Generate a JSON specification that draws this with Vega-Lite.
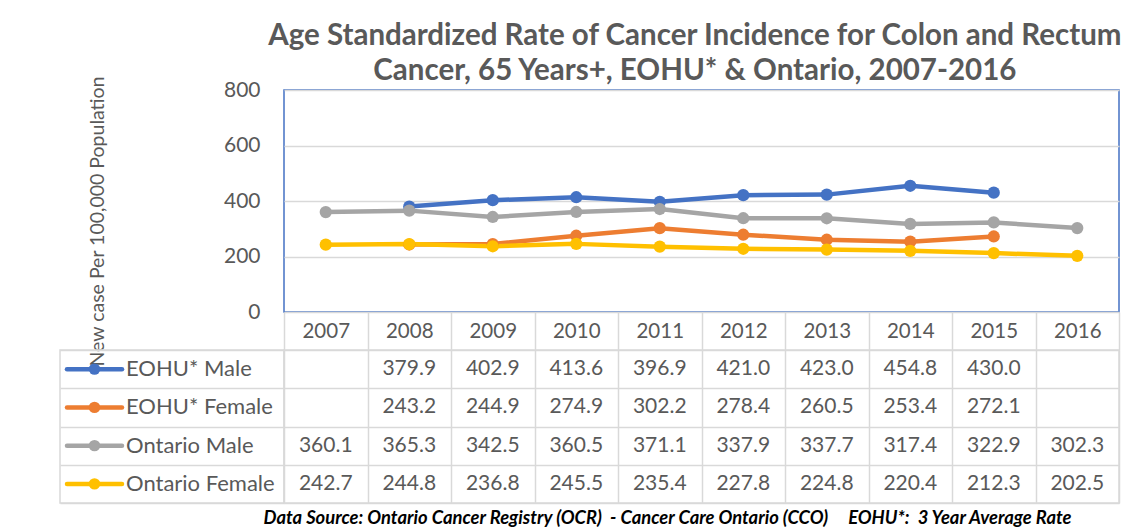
{
  "$schema": "https://vega.github.io/schema/vega-lite/v6.json",
  "padding": {"left": 59, "top": 20, "right": 8, "bottom": 0},
  "background": "white",
  "config": {"font": "Lato", "view": {"stroke": null}},
  "title": {
    "text": ["Age Standardized Rate of Cancer Incidence for Colon and Rectum", "Cancer, 65 Years+, EOHU* & Ontario, 2007-2016"],
    "fontSize": 29.5,
    "fontWeight": "bold",
    "color": "#595959",
    "lineHeight": 35,
    "anchor": "middle",
    "dx": 105,
    "offset": -11.5
  },
  "datasets": {
    "rates": [
      {"series": "EOHU* Male", "year": "2007", "value": null},
      {"series": "EOHU* Male", "year": "2008", "value": 379.9},
      {"series": "EOHU* Male", "year": "2009", "value": 402.9},
      {"series": "EOHU* Male", "year": "2010", "value": 413.6},
      {"series": "EOHU* Male", "year": "2011", "value": 396.9},
      {"series": "EOHU* Male", "year": "2012", "value": 421.0},
      {"series": "EOHU* Male", "year": "2013", "value": 423.0},
      {"series": "EOHU* Male", "year": "2014", "value": 454.8},
      {"series": "EOHU* Male", "year": "2015", "value": 430.0},
      {"series": "EOHU* Male", "year": "2016", "value": null},
      {"series": "EOHU* Female", "year": "2007", "value": null},
      {"series": "EOHU* Female", "year": "2008", "value": 243.2},
      {"series": "EOHU* Female", "year": "2009", "value": 244.9},
      {"series": "EOHU* Female", "year": "2010", "value": 274.9},
      {"series": "EOHU* Female", "year": "2011", "value": 302.2},
      {"series": "EOHU* Female", "year": "2012", "value": 278.4},
      {"series": "EOHU* Female", "year": "2013", "value": 260.5},
      {"series": "EOHU* Female", "year": "2014", "value": 253.4},
      {"series": "EOHU* Female", "year": "2015", "value": 272.1},
      {"series": "EOHU* Female", "year": "2016", "value": null},
      {"series": "Ontario Male", "year": "2007", "value": 360.1},
      {"series": "Ontario Male", "year": "2008", "value": 365.3},
      {"series": "Ontario Male", "year": "2009", "value": 342.5},
      {"series": "Ontario Male", "year": "2010", "value": 360.5},
      {"series": "Ontario Male", "year": "2011", "value": 371.1},
      {"series": "Ontario Male", "year": "2012", "value": 337.9},
      {"series": "Ontario Male", "year": "2013", "value": 337.7},
      {"series": "Ontario Male", "year": "2014", "value": 317.4},
      {"series": "Ontario Male", "year": "2015", "value": 322.9},
      {"series": "Ontario Male", "year": "2016", "value": 302.3},
      {"series": "Ontario Female", "year": "2007", "value": 242.7},
      {"series": "Ontario Female", "year": "2008", "value": 244.8},
      {"series": "Ontario Female", "year": "2009", "value": 236.8},
      {"series": "Ontario Female", "year": "2010", "value": 245.5},
      {"series": "Ontario Female", "year": "2011", "value": 235.4},
      {"series": "Ontario Female", "year": "2012", "value": 227.8},
      {"series": "Ontario Female", "year": "2013", "value": 224.8},
      {"series": "Ontario Female", "year": "2014", "value": 220.4},
      {"series": "Ontario Female", "year": "2015", "value": 212.3},
      {"series": "Ontario Female", "year": "2016", "value": 202.5}
    ],
    "series": [
      {"series": "EOHU* Male"},
      {"series": "EOHU* Female"},
      {"series": "Ontario Male"},
      {"series": "Ontario Female"}
    ]
  },
  "columns": 2,
  "spacing": {"row": 38, "column": 0},
  "bounds": "flush",
  "concat": [
    {
      "width": 224,
      "height": 222,
      "data": {"values": []},
      "mark": "point"
    },
    {
      "width": 835,
      "height": 222,
      "view": {"stroke": "#4472C4", "strokeWidth": 1.5},
      "data": {"name": "rates"},
      "transform": [{"filter": "datum.value != null"}],
      "encoding": {
        "x": {
          "field": "year", "type": "ordinal",
          "scale": {"type": "band", "paddingInner": 0, "paddingOuter": 0},
          "axis": {
            "title": null, "domain": false, "grid": false,
            "ticks": true, "tickBand": "extent", "tickSize": 38,
            "tickColor": "#D9D9D9", "tickWidth": 1.5,
            "labelAngle": 0, "labelFontSize": 20.5, "labelColor": "#595959",
            "labelBaseline": "middle", "labelPadding": -19
          }
        },
        "y": {
          "field": "value", "type": "quantitative",
          "scale": {"domain": [0, 800]},
          "axis": {
            "values": [0, 200, 400, 600, 800],
            "grid": true, "gridColor": "#D9D9D9", "gridWidth": 1.5,
            "ticks": false, "domain": false,
            "labelFontSize": 21, "labelColor": "#595959", "labelPadding": 24,
            "title": "New case Per 100,000 Population",
            "titleFontSize": 19.5, "titleFontWeight": "normal", "titleColor": "#595959",
            "titleAngle": -90, "titleAlign": "center", "titleBaseline": "alphabetic",
            "titleX": -181, "titleY": 131
          }
        },
        "color": {
          "field": "series", "type": "nominal",
          "scale": {
            "domain": ["EOHU* Male", "EOHU* Female", "Ontario Male", "Ontario Female"],
            "range": ["#4472C4", "#ED7D31", "#A5A5A5", "#FFC000"]
          },
          "legend": null
        }
      },
      "layer": [
        {"mark": {"type": "line", "strokeWidth": 4.5, "strokeCap": "round", "strokeJoin": "round"}},
        {"mark": {"type": "point", "filled": true, "size": 150, "opacity": 1}}
      ]
    },
    {
      "width": 224,
      "height": 153,
      "view": {"stroke": "#D9D9D9", "strokeWidth": 1.5},
      "data": {"name": "series"},
      "encoding": {
        "y": {
          "field": "series", "type": "nominal",
          "scale": {"type": "band", "paddingInner": 0, "paddingOuter": 0,
                    "domain": ["EOHU* Male", "EOHU* Female", "Ontario Male", "Ontario Female"]},
          "axis": {"title": null, "labels": false, "ticks": false, "domain": false,
                   "grid": true, "tickBand": "extent", "gridColor": "#D9D9D9", "gridWidth": 1.5}
        },
        "color": {
          "field": "series", "type": "nominal",
          "scale": {
            "domain": ["EOHU* Male", "EOHU* Female", "Ontario Male", "Ontario Female"],
            "range": ["#4472C4", "#ED7D31", "#A5A5A5", "#FFC000"]
          },
          "legend": null
        }
      },
      "layer": [
        {
          "mark": {"type": "rule", "strokeWidth": 4.5, "strokeCap": "round"},
          "encoding": {
            "x": {"datum": "start", "type": "ordinal",
                  "scale": {"type": "point", "domain": ["start", "mid", "end", "k4", "k5", "k6", "k7", "k8"], "padding": 0.5727, "align": 0.2222},
                  "axis": null},
            "x2": {"datum": "end"}
          }
        },
        {
          "mark": {"type": "point", "filled": true, "size": 130, "opacity": 1},
          "encoding": {"x": {"datum": "mid", "type": "ordinal"}}
        },
        {
          "mark": {"type": "text", "align": "left", "baseline": "middle", "dx": 4, "fontSize": 22, "color": "#595959"},
          "encoding": {
            "x": {"datum": "end", "type": "ordinal"},
            "text": {"field": "series"},
            "color": {"value": "#595959"}
          }
        }
      ]
    },
    {
      "width": 835,
      "height": 153,
      "view": {"stroke": "#D9D9D9", "strokeWidth": 1.5},
      "data": {"name": "rates"},
      "transform": [{"filter": "datum.value != null"}],
      "mark": {"type": "text", "fontSize": 21, "color": "#595959", "baseline": "middle"},
      "encoding": {
        "x": {
          "field": "year", "type": "ordinal",
          "scale": {"type": "band", "paddingInner": 0, "paddingOuter": 0},
          "axis": {
            "orient": "bottom", "labels": false, "ticks": false, "domain": false,
            "grid": true, "tickBand": "extent", "gridColor": "#D9D9D9", "gridWidth": 1.5,
            "title": "Data Source: Ontario Cancer Registry (OCR)\u00a0\u00a0- Cancer Care Ontario (CCO)\u00a0\u00a0\u00a0\u00a0\u00a0EOHU*:\u00a0\u00a03 Year Average Rate",
            "titleFontSize": 18.4, "titleFontWeight": "bold", "titleFontStyle": "italic", "titleColor": "#000000",
            "titleAnchor": "start", "titleAlign": "left", "titleBaseline": "alphabetic",
            "titleX": -21, "titleY": 20
          }
        },
        "y": {
          "field": "series", "type": "nominal",
          "scale": {"type": "band", "paddingInner": 0, "paddingOuter": 0,
                    "domain": ["EOHU* Male", "EOHU* Female", "Ontario Male", "Ontario Female"]},
          "axis": {"title": null, "labels": false, "ticks": false, "domain": false,
                   "grid": true, "tickBand": "extent", "gridColor": "#D9D9D9", "gridWidth": 1.5}
        },
        "text": {"field": "value", "type": "quantitative", "format": ".1f"}
      }
    }
  ]
}
